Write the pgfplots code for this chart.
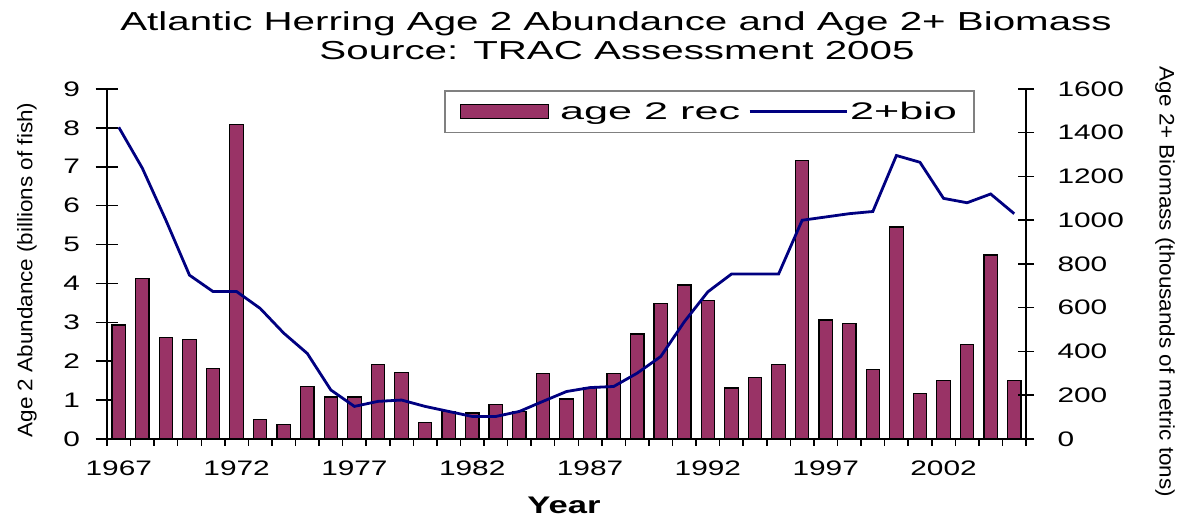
\documentclass[border=0pt]{standalone}
\usepackage{pgfplots}
\usepackage{pgfplotstable}
\pgfplotsset{compat=1.18}
\usepackage{fontspec}
\setmainfont{Liberation Sans}
\newfontfamily\tickfont[FakeStretch=1.42]{Liberation Sans}
\newfontfamily\legfont[FakeStretch=1.8]{Liberation Sans}
\newfontfamily\titlefont[FakeStretch=1.55]{Liberation Sans}
\newfontfamily\ylabfont[FakeStretch=1.07]{Liberation Sans}
\newfontfamily\xlabfont[FakeStretch=1.44]{Liberation Sans}
\definecolor{barcol}{HTML}{993366}
\definecolor{linecol}{HTML}{000080}

\pgfplotstableread{
year rec bio
1967 2.93 1425
1968 4.13 1238
1969 2.61 1000
1970 2.56 749
1971 1.82 674
1972 8.08 674
1973 0.51 597
1974 0.38 484
1975 1.35 391
1976 1.08 224
1977 1.08 149
1978 1.91 172
1979 1.72 178
1980 0.43 149
1981 0.71 126
1982 0.67 103
1983 0.88 103
1984 0.71 126
1985 1.68 172
1986 1.03 217
1987 1.32 235
1988 1.68 240
1989 2.70 301
1990 3.49 377
1991 3.96 536
1992 3.57 673
1993 1.31 754
1994 1.59 754
1995 1.91 754
1996 7.17 1000
1997 3.06 1015
1998 2.97 1030
1999 1.78 1040
2000 5.45 1296
2001 1.16 1265
2002 1.50 1100
2003 2.42 1080
2004 4.73 1120
2005 1.50 1030
}\datatable

\pgfplotsset{
  base/.style={
    scale only axis, width=919pt, height=350pt,
    at={(107pt,80pt)}, anchor=south west,
    xmin=1966.5, xmax=2005.5, clip=false,
    axis line style={line width=1.5pt, black},
    every tick/.style={black, line width=1.5pt},
    /pgf/number format/assume math mode=true,
    /pgf/number format/1000 sep={},
  },
  tickf/.style={font=\tickfont\fontsize{21}{24}\selectfont},
}

\begin{document}
\begin{tikzpicture}
\path[use as bounding box] (0pt,0pt) rectangle (1189pt,519pt);

% bars + left axis
\begin{axis}[base, ymin=0, ymax=9, ytick={0,1,...,9},
  axis y line*=left, axis x line=none, xtick=\empty,
  tick align=center, major tick length=23pt,
  yticklabel style={tickf, xshift=-12pt},
  ybar, bar width=0.57]
\addplot[fill=barcol, draw=black, line width=1.2pt] table[x=year,y=rec]{\datatable};
\end{axis}

% x axis ticks at category boundaries
\begin{axis}[base, ymin=0, ymax=9, axis x line*=bottom, axis y line=none, ytick=\empty,
  xtick={1966.5,1967.5,...,2005.5}, xticklabels={},
  tick align=outside, major tick length=7pt]
\addplot[draw=none] coordinates {(1967,0)};
\end{axis}

% x tick labels
\begin{axis}[base, ymin=0, ymax=9, axis x line*=bottom, axis y line=none, ytick=\empty,
  xtick={1967,1972,...,2002}, major tick length=0pt, tick style={draw=none},
  xticklabel style={tickf, yshift=-18pt}]
\addplot[draw=none] coordinates {(1967,0)};
\end{axis}

% line + right axis + legend
\begin{axis}[base, ymin=0, ymax=1600, ytick={0,200,...,1600},
  axis y line*=right, axis x line=none, xtick=\empty,
  tick align=center, major tick length=16pt,
  yticklabel style={tickf, xshift=20pt},
  legend columns=2,
  legend image code/.code={\draw[#1] (0pt,0pt) -- (97pt,0pt);},
  legend style={at={(0.3667,0.997)}, anchor=north west,
    draw=black!50, line width=1.5pt, fill=white,
    inner xsep=15pt, inner ysep=9.5pt,
    nodes={inner sep=2pt},
    font=\legfont\fontsize{24}{28}\selectfont,
    /tikz/column sep=0pt,
    /tikz/every even column/.append style={column sep=6pt}}]
\addlegendimage{legend image code/.code={\draw[fill=barcol, draw=black, line width=1.2pt] (0pt,-7pt) rectangle (88pt,7pt); \path (97pt,0pt);}}
\addlegendentry{age 2 rec}
\addplot[linecol, line width=2.8pt] table[x=year,y=bio]{\datatable};
\addlegendentry{2+bio}
\end{axis}

\node[font=\titlefont\fontsize{26}{30}\selectfont, anchor=base] at (616pt,488pt) {Atlantic Herring Age 2 Abundance and Age 2+ Biomass};
\node[font=\titlefont\fontsize{26}{30}\selectfont, anchor=base] at (617pt,459pt) {Source: TRAC Assessment 2005};
\node[font=\xlabfont\bfseries\fontsize{24}{28}\selectfont, anchor=base] at (564pt,5pt) {Year};
\node[rotate=90, font=\ylabfont\fontsize{21}{24}\selectfont] at (27pt,249pt) {Age 2 Abundance (billions of fish)};
\node[rotate=-90, font=\ylabfont\fontsize{21}{24}\selectfont] at (1165pt,237pt) {Age 2+ Biomass (thousands of metric tons)};
\end{tikzpicture}
\end{document}
